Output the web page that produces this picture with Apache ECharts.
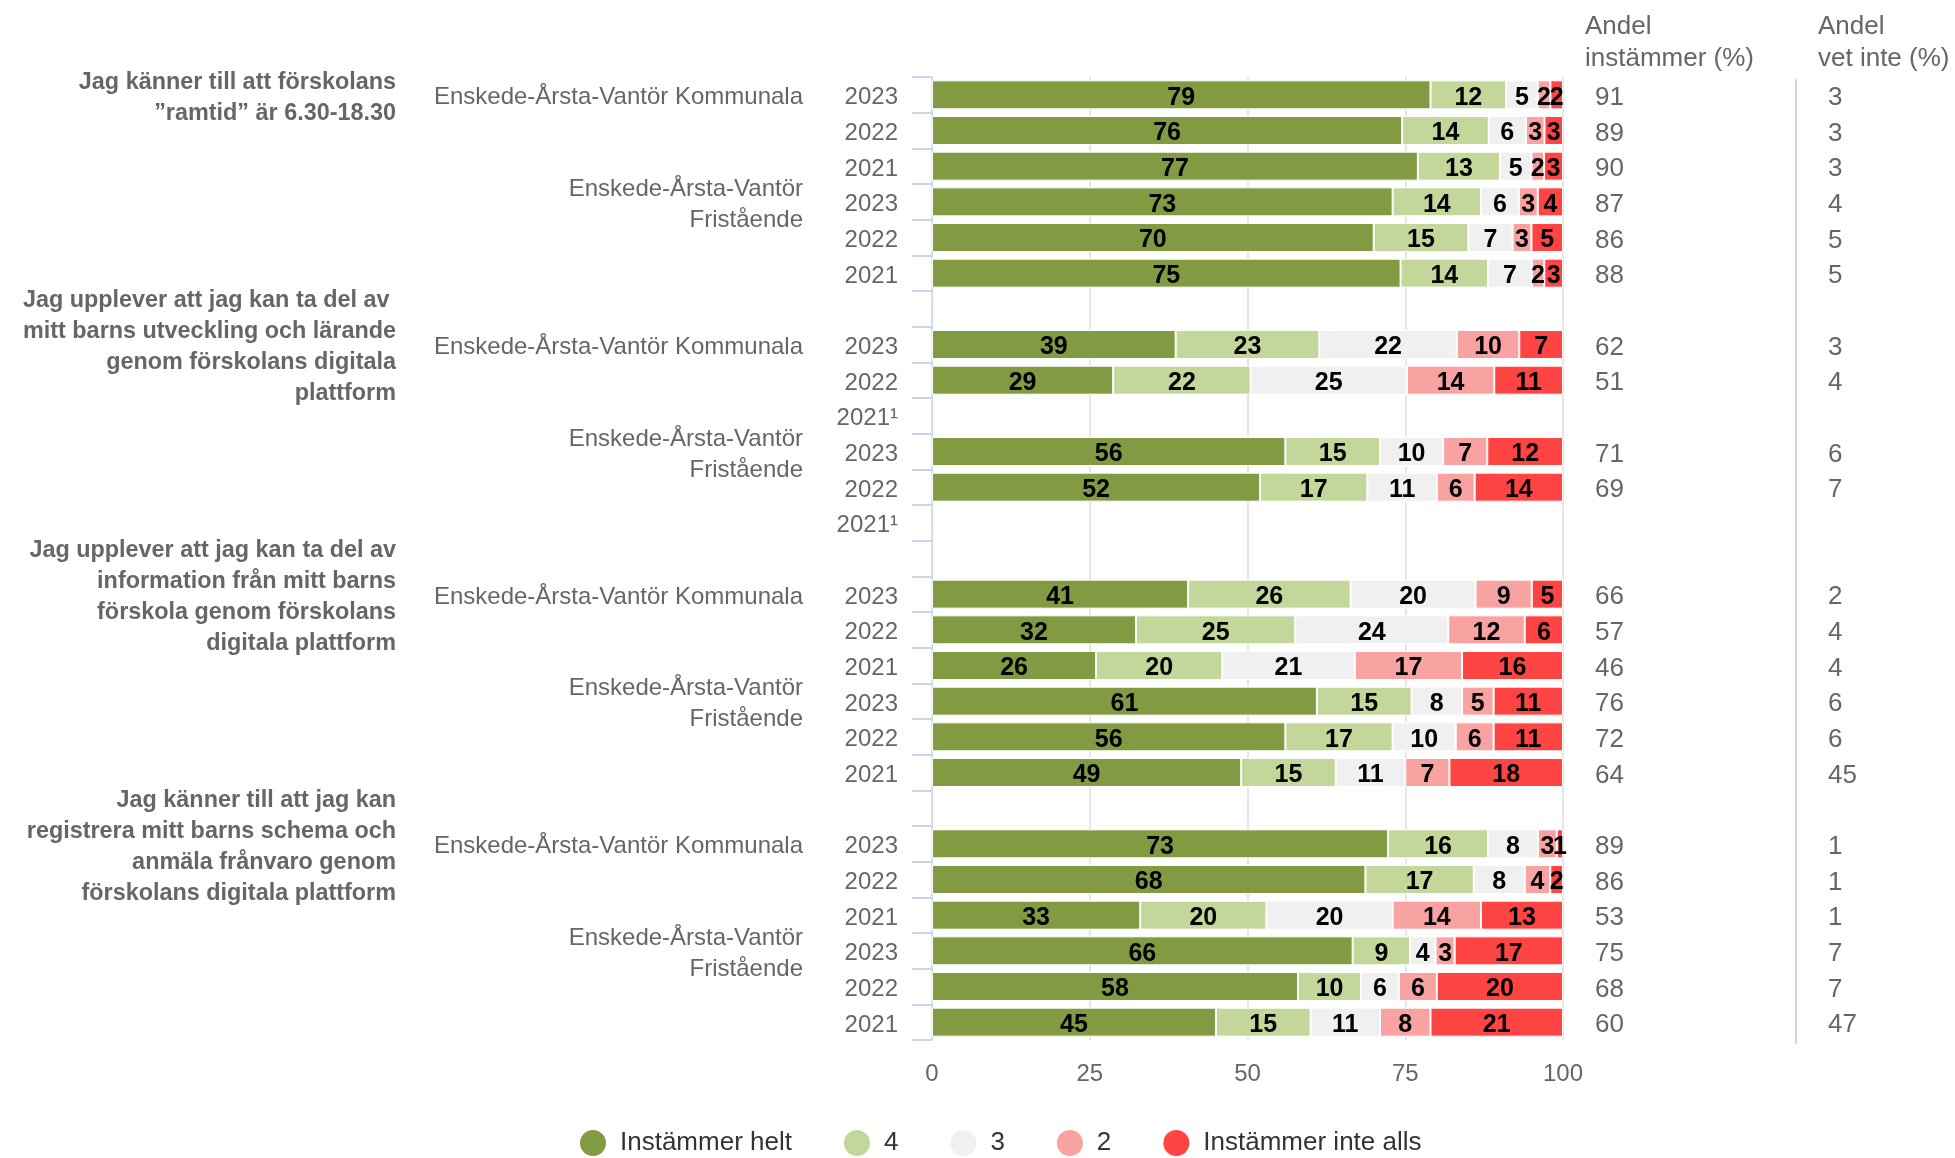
<!DOCTYPE html>
<html><head><meta charset="utf-8">
<script src="https://cdn.jsdelivr.net/npm/echarts@6/dist/echarts.min.js"></script>
<style>html,body{margin:0;padding:0;background:#fff}#c{width:1955px;height:1158px}</style>
</head><body><div id="c"></div>
<script>
// ---- data ----
const years = ['2023','2022','2021','2023','2022','2021','',
               '2023','2022','2021¹','2023','2022','2021¹','',
               '2023','2022','2021','2023','2022','2021','',
               '2023','2022','2021','2023','2022','2021'];
const K = 'Enskede-Årsta-Vantör Kommunala';
const F = 'Enskede-Årsta-Vantör\nFristående';
const groupLabels = [K,'','',F,'','','', K,'','',F,'','','', K,'','',F,'','','', K,'','',F,'',''];
const Q1 = 'Jag känner till att förskolans\n”ramtid” är 6.30-18.30';
const Q2 = 'Jag upplever att jag kan ta del av \nmitt barns utveckling och lärande\ngenom förskolans digitala\nplattform';
const Q3 = 'Jag upplever att jag kan ta del av\ninformation från mitt barns\nförskola genom förskolans\ndigitala plattform';
const Q4 = 'Jag känner till att jag kan\nregistrera mitt barns schema och\nanmäla frånvaro genom\nförskolans digitala plattform';
const questionLabels = [Q1,'','','','','','', Q2,'','','','','','', Q3,'','','','','','', Q4,'','','','',''];
const seriesNames = ['Instämmer helt','4','3','2','Instämmer inte alls'];
const helt     = [79,76,77,73,70,75,null, 39,29,null,56,52,null,null, 41,32,26,61,56,49,null, 73,68,33,66,58,45];
const v4       = [12,14,13,14,15,14,null, 23,22,null,15,17,null,null, 26,25,20,15,17,15,null, 16,17,20, 9,10,15];
const v3       = [ 5, 6, 5, 6, 7, 7,null, 22,25,null,10,11,null,null, 20,24,21, 8,10,11,null,  8, 8,20, 4, 6,11];
const v2       = [ 2, 3, 2, 3, 3, 2,null, 10,14,null, 7, 6,null,null,  9,12,17, 5, 6, 7,null,  3, 4,14, 3, 6, 8];
const inteAlls = [ 2, 3, 3, 4, 5, 3,null,  7,11,null,12,14,null,null,  5, 6,16,11,11,18,null,  1, 2,13,17,20,21];
const andelInstammer = ['91','89','90','87','86','88','', '62','51','','71','69','','', '66','57','46','76','72','64','', '89','86','53','75','68','60'];
const andelVetInte   = ['3','3','3','4','5','5','', '3','4','','6','7','','', '2','4','4','6','6','45','', '1','1','1','7','7','47'];
const xTicks = [0, 25, 50, 75, 100];

// ---- chart ----
const FONT = '"Liberation Sans", Arial, Helvetica, sans-serif';
const colors = ['#829b43','#c4d79b','#f0f0f0','#f9a2a2','#ff4444'];
const seriesVals = [helt, v4, v3, v2, inteAlls];
const sums = years.map((_, i) => seriesVals.reduce((s, a) => s + (a[i] || 0), 0));
const SHIFT = 3; // text sits slightly below the band centre in the reference

const series = seriesVals.map((arr, k) => ({
  name: seriesNames[k], type: 'bar', stack: 'total', xAxisIndex: 0, yAxisIndex: 0, barWidth: 29,
  itemStyle: { color: colors[k], borderColor: '#ffffff', borderWidth: 1 },
  label: { show: true, position: 'inside', offset: [0, SHIFT], formatter: p => String(p.data.raw),
           color: '#000', fontSize: 25, fontWeight: 'bold', fontFamily: FONT },
  emphasis: { disabled: true },
  data: arr.map((v, i) => v == null ? null : { value: v / sums[i] * 100, raw: v })
}));

const lbl = { fontFamily: FONT, color: '#666666' };
const noAxis = { axisLine: { show: false }, axisTick: { show: false }, splitLine: { show: false } };
const option = {
  animation: false,
  textStyle: { fontFamily: FONT },
  color: colors,
  grid: [
    { left: 932, right: 392, top: 77, bottom: 118, containLabel: false },
    { left: 932, right: 392, top: 77 + SHIFT, bottom: 118 - SHIFT, containLabel: false }
  ],
  legend: {
    data: seriesNames, top: 1125, left: 575, icon: 'circle',
    itemWidth: 26, itemHeight: 26, itemGap: 52,
    itemStyle: { borderWidth: 0 },
    textStyle: { fontSize: 26, color: '#333333', fontFamily: FONT, padding: [0, 0, 0, 9] }
  },
  xAxis: [
    { type: 'value', gridIndex: 0, min: xTicks[0], max: xTicks[xTicks.length - 1], interval: 25,
      axisLine: { show: false }, axisTick: { show: false },
      splitLine: { show: true, lineStyle: { color: '#e6e6e6', width: 2 } },
      axisLabel: Object.assign({ fontSize: 24, margin: 22 }, lbl) },
    { type: 'value', gridIndex: 1, min: 0, max: 100, show: false }
  ],
  yAxis: [
    { type: 'category', gridIndex: 0, data: years, inverse: true, position: 'left',
      axisLine: { show: true, lineStyle: { color: '#ccd6eb', width: 1 } },
      axisTick: { show: true, length: 20, lineStyle: { color: '#ccd6eb', width: 2 } },
      axisLabel: { show: false }, splitLine: { show: false } },
    Object.assign({ type: 'category', gridIndex: 1, data: years, inverse: true, position: 'left',
      axisLabel: Object.assign({ interval: 0, margin: 34, fontSize: 24 }, lbl) }, noAxis),
    Object.assign({ type: 'category', gridIndex: 1, data: groupLabels, inverse: true, position: 'left', offset: 129,
      axisLabel: Object.assign({ interval: 0, margin: 0, fontSize: 24, lineHeight: 31 }, lbl) }, noAxis),
    Object.assign({ type: 'category', gridIndex: 1, data: questionLabels, inverse: true, position: 'left', offset: 536,
      axisLabel: Object.assign({ interval: 0, margin: 0, fontSize: 23.4, fontWeight: 'bold', lineHeight: 31 }, lbl) }, noAxis),
    Object.assign({ type: 'category', gridIndex: 1, data: andelInstammer, inverse: true, position: 'right', offset: 0,
      name: 'Andel\ninstämmer (%)', nameLocation: 'start', nameGap: 2 + SHIFT,
      nameTextStyle: Object.assign({ align: 'left', verticalAlign: 'bottom', fontSize: 26, lineHeight: 32, padding: [0, 0, 0, 22] }, lbl),
      axisLabel: Object.assign({ interval: 0, margin: 32, fontSize: 26 }, lbl) }, noAxis),
    Object.assign({ type: 'category', gridIndex: 1, data: andelVetInte, inverse: true, position: 'right', offset: 233,
      name: 'Andel\nvet inte (%)', nameLocation: 'start', nameGap: 2 + SHIFT,
      nameTextStyle: Object.assign({ align: 'left', verticalAlign: 'bottom', fontSize: 26, lineHeight: 32, padding: [0, 0, 0, 22] }, lbl),
      axisLabel: Object.assign({ interval: 0, margin: 32, fontSize: 26 }, lbl) }, noAxis,
      { axisLine: { show: true, lineStyle: { color: '#ccd6eb', width: 2 } } })
  ],
  series: series
};
const chart = echarts.init(document.getElementById('c'), null, { renderer: 'canvas' });
chart.setOption(option);
</script>
</body></html>
